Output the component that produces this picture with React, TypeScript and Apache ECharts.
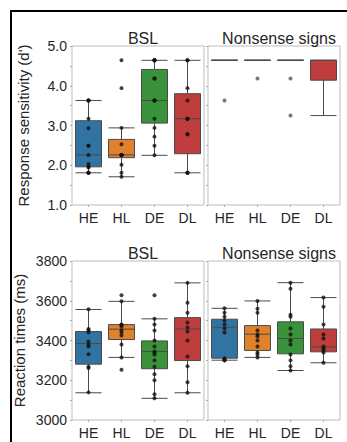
import React, { useEffect, useRef } from "react";
import * as echarts from "echarts";

const categories = ["HE", "HL", "DE", "DL"];
const colors = ["#3274A1", "#E1812C", "#3A923A", "#C03D3E"];
const panelTitles = ["BSL", "Nonsense signs"];

// Response sensitivity (d') — [min, Q1, median, Q3, max]
const sensBslBoxes = [
  [1.81, 1.96, 2.26, 3.12, 3.63],
  [1.71, 2.19, 2.26, 2.65, 2.94],
  [2.25, 3.06, 3.63, 4.41, 4.64],
  [1.81, 2.29, 3.17, 3.8, 4.64],
];
const sensNonBoxes = [
  [4.64, 4.64, 4.64, 4.64, 4.64],
  [4.64, 4.64, 4.64, 4.64, 4.64],
  [4.64, 4.64, 4.64, 4.64, 4.64],
  [3.25, 4.14, 4.64, 4.64, 4.64],
];
const sensBslHE = [3.63, 3.63, 3.63, 3.17, 2.93, 2.49, 2.49, 2.26, 2.03, 1.97, 1.94, 1.81, 1.81, 1.81];
const sensBslHL = [4.64, 3.94, 2.94, 2.53, 2.26, 2.26, 2.26, 2.26, 2.26, 2.01, 1.81, 1.71];
const sensBslDE = [4.64, 4.64, 4.64, 4.64, 4.18, 4.18, 3.63, 3.63, 3.63, 3.17, 2.94, 2.72, 2.49, 2.25];
const sensBslDL = [4.64, 4.64, 3.94, 3.63, 3.17, 3.17, 3.17, 2.78, 2.78, 1.81, 1.81, 1.81];
const sensNonHE = [3.63];
const sensNonHL = [4.18];
const sensNonDE = [4.18, 3.25];
const sensNonDL: number[] = [];

// Reaction times (ms) — [min, Q1, median, Q3, max]
const rtBslBoxes = [
  [3137, 3281, 3385, 3445, 3556],
  [3315, 3405, 3457, 3480, 3597],
  [3109, 3258, 3345, 3398, 3509],
  [3137, 3299, 3458, 3515, 3690],
];
const rtNonBoxes = [
  [3301, 3311, 3467, 3507, 3562],
  [3315, 3350, 3432, 3475, 3599],
  [3249, 3333, 3410, 3494, 3691],
  [3288, 3343, 3368, 3458, 3616],
];
const rtBslHE = [3557, 3458, 3452, 3440, 3395, 3380, 3370, 3331, 3268, 3262, 3139];
const rtBslHL = [3628, 3597, 3480, 3478, 3470, 3452, 3440, 3425, 3380, 3315, 3253];
const rtBslDE = [3628, 3509, 3480, 3450, 3400, 3370, 3345, 3340, 3330, 3300, 3268, 3230, 3200, 3130, 3109];
const rtBslDL = [3690, 3590, 3540, 3490, 3465, 3445, 3400, 3320, 3270, 3190, 3137];
const rtNonHE = [3562, 3540, 3520, 3500, 3480, 3460, 3440, 3310, 3305, 3301, 3300];
const rtNonHL = [3599, 3560, 3540, 3450, 3430, 3420, 3400, 3370, 3340, 3330, 3315];
const rtNonDE = [3691, 3660, 3530, 3520, 3460, 3430, 3400, 3380, 3330, 3300, 3270, 3249];
const rtNonDL = [3616, 3570, 3480, 3430, 3410, 3370, 3360, 3350, 3340, 3288];

const FONT = "Liberation Sans, Arial, sans-serif";
const TXT = "#262626";

function pts(groups: number[][]) {
  const out: number[][] = [];
  groups.forEach((g, i) => g.forEach((v) => out.push([i, v])));
  return out;
}

export default function App() {
  const ref = useRef<HTMLDivElement>(null);
  useEffect(() => {
    if (!ref.current) return;
    const chart = echarts.init(ref.current, undefined, { renderer: "svg" });

    const grids = [
      { left: 72, top: 46, width: 132, height: 159 },
      { left: 208, top: 46, width: 132, height: 159 },
      { left: 72, top: 261, width: 132, height: 159 },
      { left: 208, top: 261, width: 132, height: 159 },
    ].map((g) => ({ ...g, show: true, borderColor: "#bdbdbd", borderWidth: 1, backgroundColor: "transparent" }));

    const xAxes = grids.map((_, i) => ({
      type: "category",
      gridIndex: i,
      data: categories,
      axisLine: { show: false },
      axisTick: { show: true, alignWithLabel: true, length: 2, lineStyle: { color: "#aaa" } },
      axisLabel: { fontSize: 14, color: TXT, fontFamily: FONT, margin: 6 },
      splitLine: { show: false },
    }));

    const yAxes = grids.map((_, i) => {
      const top = i < 2;
      const left = i % 2 === 0;
      return {
        type: "value",
        gridIndex: i,
        min: top ? 1 : 3000,
        max: top ? 5 : 3800,
        interval: top ? 0.5 : 100,
        axisLine: { show: false },
        splitLine: { show: false },
        axisTick: { show: true, length: 2, lineStyle: { color: "#aaa" } },
        axisLabel: {
          show: left,
          fontSize: 14,
          color: TXT,
          fontFamily: FONT,
          margin: 5,
          formatter: (v: number) =>
            top ? (Number.isInteger(v) ? v.toFixed(1) : "") : v % 200 === 0 ? String(v) : "",
        },
        name: left ? (top ? "Response sensitivity (d')" : "Reaction times (ms)") : "",
        nameLocation: "middle",
        nameGap: top ? 41 : 45,
        nameTextStyle: { fontSize: 15, color: TXT, fontFamily: FONT },
      };
    });

    const boxSets = [sensBslBoxes, sensNonBoxes, rtBslBoxes, rtNonBoxes];
    const pointSets = [
      pts([sensBslHE, sensBslHL, sensBslDE, sensBslDL]),
      pts([sensNonHE, sensNonHL, sensNonDE, sensNonDL]),
      pts([rtBslHE, rtBslHL, rtBslDE, rtBslDL]),
      pts([rtNonHE, rtNonHL, rtNonDE, rtNonDL]),
    ];

    const series: any[] = [];
    boxSets.forEach((boxes, i) => {
      series.push({
        type: "boxplot",
        xAxisIndex: i,
        yAxisIndex: i,
        boxWidth: [26, 26],
        data: boxes.map((b, j) => ({
          value: b,
          itemStyle: { color: colors[j], borderColor: "#4a4a4a", borderWidth: 1 },
        })),
        z: 2,
      });
      series.push({
        type: "scatter",
        xAxisIndex: i,
        yAxisIndex: i,
        symbolSize: 4,
        itemStyle: { color: i === 1 ? "#555" : "#111" },
        data: pointSets[i],
        z: 3,
      });
    });

    const titles = grids.map((g, i) => ({
      text: panelTitles[i % 2],
      left: g.left + g.width / 2,
      top: g.top - 21,
      textAlign: "center",
      textStyle: { fontSize: 16, fontWeight: "normal", color: TXT, fontFamily: FONT },
    }));

    chart.setOption({
      animation: false,
      backgroundColor: "#fff",
      title: titles,
      grid: grids,
      xAxis: xAxes,
      yAxis: yAxes,
      series,
      graphic: [
        { type: "line", shape: { x1: 10, y1: 11, x2: 347, y2: 11 }, style: { stroke: "#000", lineWidth: 2 } },
        { type: "line", shape: { x1: 11, y1: 10, x2: 11, y2: 442 }, style: { stroke: "#000", lineWidth: 2 } },
      ],
    });
    return () => chart.dispose();
  }, []);

  return (
    <div
      ref={ref}
      style={{ position: "absolute", left: 0, top: 0, width: 347, height: 442, background: "#fff" }}
    />
  );
}
